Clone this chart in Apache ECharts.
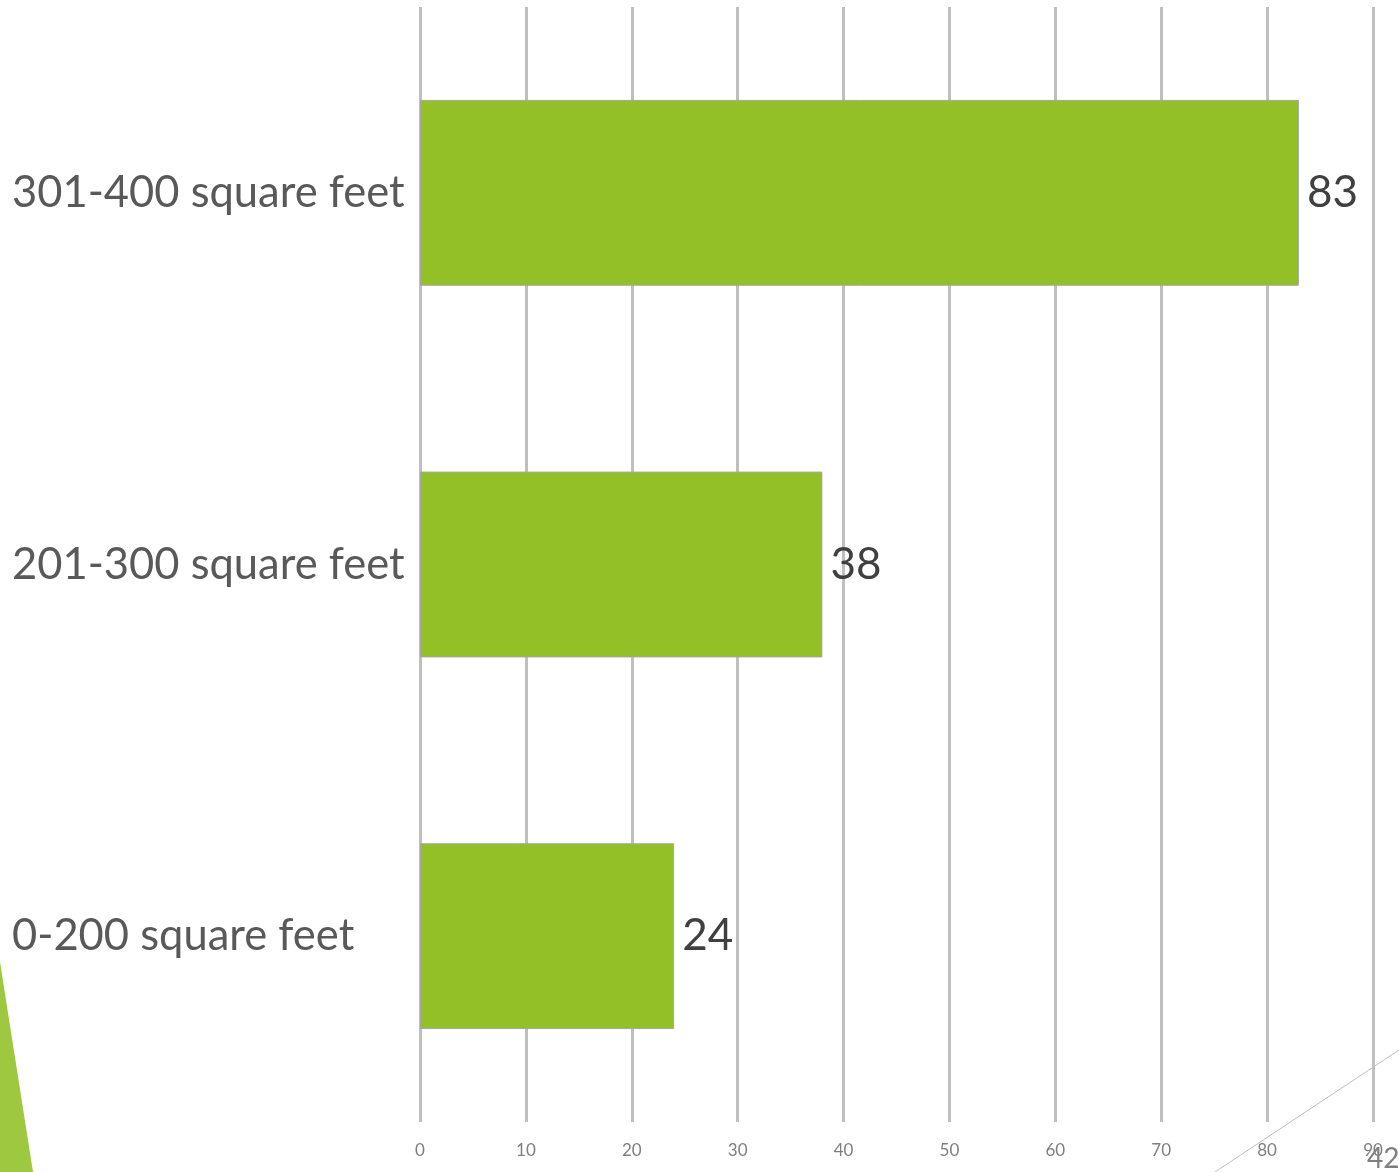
<!DOCTYPE html>
<html>
<head>
<meta charset="utf-8">
<script src="https://cdn.jsdelivr.net/npm/echarts@6/dist/echarts.min.js"></script>
<style>
html,body{margin:0;padding:0;background:#fff;}
#chart{width:1399px;height:1172px;}
</style>
</head>
<body>
<div id="chart"></div>
<script>
const categories = ["0-200 square feet", "201-300 square feet", "301-400 square feet"];
const values = [24, 38, 83];
const xTicks = [0, 10, 20, 30, 40, 50, 60, 70, 80, 90];
const pageNumber = "42";

const chart = echarts.init(document.getElementById('chart'), null, {renderer: 'canvas'});
chart.setOption({
  animation: false,
  backgroundColor: '#ffffff',
  grid: {left: 420, right: 26, top: 7, bottom: 50, containLabel: false},
  xAxis: {
    type: 'value', min: xTicks[0], max: xTicks[xTicks.length - 1], interval: 10,
    axisLine: {show: false}, axisTick: {show: false},
    splitLine: {show: true, lineStyle: {color: '#BFBFBF', width: 3}},
    axisLabel: {color: '#7F7F7F', fontSize: 17, fontFamily: 'Lato', margin: 20}
  },
  yAxis: {
    type: 'category', data: categories,
    axisLine: {show: false}, axisTick: {show: false},
    axisLabel: {color: '#595959', fontSize: 43.5, fontFamily: 'Lato', margin: 408, align: 'left', padding: [8, 0, 0, 0]}
  },
  series: [{
    type: 'bar', data: values, barWidth: '50%',
    itemStyle: {color: '#92C026', borderColor: '#A6A6A6', borderWidth: 1},
    label: {show: true, position: 'right', distance: 8, color: '#404040', fontSize: 44, fontFamily: 'Lato', padding: [9, 0, 0, 0]}
  }],
  graphic: [
    {type: 'polygon', shape: {points: [[0, 962], [33, 1172], [0, 1172]]}, style: {fill: '#9DC83F'}, z: 100},
    {type: 'line', shape: {x1: 1215, y1: 1172, x2: 1399, y2: 1050}, style: {stroke: '#BFBFBF', lineWidth: 1}, z: 100},
    {type: 'text', left: 1367, top: 1145, style: {text: pageNumber, fill: '#808080', fontSize: 28, fontFamily: 'Lato'}, z: 101}
  ]
});
</script>
</body>
</html>
